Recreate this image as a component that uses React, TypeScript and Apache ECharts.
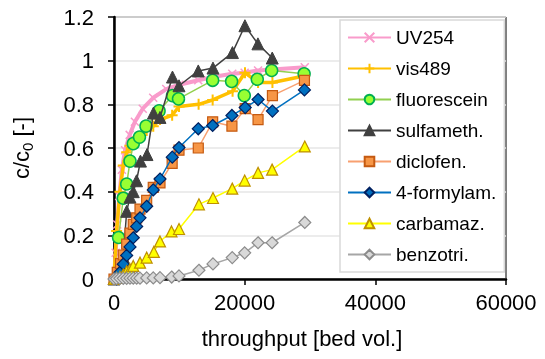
import React, { useEffect, useRef } from "react";
import * as echarts from "echarts";

const FONT = "Liberation Sans, Arial, sans-serif";

const seriesNames = ["UV254", "vis489", "fluorescein", "sulfameth.", "diclofen.", "4-formylam.", "carbamaz.", "benzotri."];

const xTicks = [0, 20000, 40000, 60000];
const yTicks = [0, 0.2, 0.4, 0.6, 0.8, 1, 1.2];

const xUV = [0, 250, 500, 800, 1200, 1700, 2400, 3200, 4400, 6000, 8000, 10000, 12900, 15100, 18100, 20000, 22050, 24200, 29200];
const yUV = [0, 0.12, 0.25, 0.38, 0.5, 0.59, 0.66, 0.72, 0.78, 0.83, 0.87, 0.89, 0.91, 0.925, 0.94, 0.945, 0.955, 0.96, 0.97];

const xVis = [0, 400, 900, 1420, 1940, 2450, 2950, 3470, 3980, 5000, 6010, 7040, 8900, 9950, 12950, 15100, 18150, 20050, 22050, 24250, 29100];
const yVis = [0, 0.22, 0.4, 0.52, 0.58, 0.61, 0.63, 0.64, 0.65, 0.68, 0.7, 0.73, 0.75, 0.79, 0.8, 0.82, 0.86, 0.945, 0.9, 0.9, 0.93];

const xFl = [700, 1420, 1940, 2450, 2950, 3900, 4900, 6900, 8950, 9870, 15100, 18000, 19940, 21930, 24130, 29100];
const yFl = [0.19, 0.37, 0.435, 0.54, 0.62, 0.65, 0.7, 0.77, 0.84, 0.825, 0.91, 0.905, 0.84, 0.915, 0.955, 0.94];

const xSu = [0, 900, 1420, 1940, 2450, 2950, 3450, 4050, 5050, 6040, 7040, 8950, 9950, 12900, 15150, 18130, 20040, 22030, 24220];
const ySu = [0, 0.03, 0.1, 0.31, 0.375, 0.4, 0.45, 0.54, 0.57, 0.76, 0.74, 0.925, 0.885, 0.953, 0.966, 1.037, 1.16, 1.077, 1.012];

const xDi = [0, 500, 1000, 1420, 1940, 2450, 2950, 3470, 3980, 5000, 6010, 7040, 8900, 9950, 12900, 15100, 18050, 20080, 22050, 24250, 29150];
const yDi = [0, 0.03, 0.07, 0.11, 0.16, 0.21, 0.25, 0.28, 0.32, 0.36, 0.42, 0.44, 0.53, 0.59, 0.6, 0.72, 0.7, 0.78, 0.73, 0.84, 0.91];

const xFo = [400, 900, 1420, 1940, 2450, 2950, 3470, 3980, 5000, 6010, 7040, 8920, 9950, 12900, 15100, 18050, 20080, 22050, 24250, 29150];
const yFo = [0, 0.03, 0.068, 0.108, 0.147, 0.189, 0.241, 0.28, 0.333, 0.408, 0.458, 0.558, 0.602, 0.688, 0.703, 0.749, 0.785, 0.822, 0.769, 0.866];

const xCa = [0, 400, 900, 1420, 1940, 2450, 2950, 3980, 5000, 6100, 7040, 8800, 9950, 13000, 15150, 18100, 20000, 22050, 24200, 29200];
const yCa = [0, 0.005, 0.01, 0.02, 0.035, 0.045, 0.06, 0.075, 0.098, 0.124, 0.172, 0.218, 0.229, 0.342, 0.371, 0.414, 0.451, 0.486, 0.501, 0.607];

const xBe = [0, 400, 900, 1420, 1940, 2450, 2950, 3470, 3980, 5000, 6010, 7040, 8830, 9950, 13000, 15150, 18100, 20000, 22050, 24200, 29200];
const yBe = [0, 0.002, 0.003, 0.003, 0.003, 0.004, 0.004, 0.004, 0.004, 0.005, 0.005, 0.006, 0.009, 0.014, 0.04, 0.069, 0.098, 0.12, 0.166, 0.166, 0.259];

const zip = (xs: number[], ys: number[]) => xs.map((x, i) => [x, ys[i]]);

const CROSS = "path://M0,0L10,10M10,0L0,10";
const PLUS = "path://M5,0L5,10M0,5L10,5";

export default function App() {
  const ref = useRef<HTMLDivElement>(null);
  useEffect(() => {
    if (!ref.current) return;
    const chart = echarts.init(ref.current, null, { renderer: "svg" });
    const mk = (
      i: number,
      data: number[][],
      lineColor: string,
      lineWidth: number,
      symbol: string,
      symbolSize: number,
      fill: string,
      border: string,
      borderWidth: number
    ) => ({
      name: seriesNames[i],
      type: "line",
      data,
      symbol,
      symbolSize,
      showAllSymbol: true,
      lineStyle: { color: lineColor, width: lineWidth },
      itemStyle: { color: fill, borderColor: border, borderWidth },
      emphasis: { disabled: true },
      z: 2 + i,
    });
    chart.setOption({
      animation: false,
      grid: { left: 114, right: 39, top: 17, bottom: 80, show: true, borderColor: "#000", borderWidth: 1, backgroundColor: "transparent" },
      legend: {
        orient: "vertical",
        left: 340,
        top: 20,
        padding: [8, 8, 8, 7],
        itemGap: 12,
        itemWidth: 43,
        itemHeight: 12,
        backgroundColor: "#fff",
        borderColor: "#d9d9d9",
        borderWidth: 1.5,
        textStyle: { fontSize: 19, color: "#000", fontFamily: FONT },
        data: seriesNames,
      },
      xAxis: {
        type: "value",
        min: xTicks[0],
        max: xTicks[xTicks.length - 1],
        interval: xTicks[1] - xTicks[0],
        axisLine: { show: true, onZero: false, lineStyle: { color: "#000", width: 2.5 } },
        axisTick: { show: true, length: 6, lineStyle: { color: "#000", width: 1.5 } },
        axisLabel: { color: "#000", fontSize: 22, fontFamily: FONT, margin: 12, formatter: (v: number) => String(v) },
        splitLine: { show: false },
        name: "throughput [bed vol.]",
        nameLocation: "middle",
        nameGap: 48,
        nameTextStyle: { color: "#000", fontSize: 22, fontFamily: FONT, padding: [0, 16, 0, 0] },
      },
      yAxis: {
        type: "value",
        min: yTicks[0],
        max: yTicks[yTicks.length - 1],
        interval: 0.2,
        axisLine: { show: true, onZero: false, lineStyle: { color: "#000", width: 2.5 } },
        axisTick: { show: true, length: 6, lineStyle: { color: "#000", width: 1.5 } },
        axisLabel: {
          color: "#000",
          fontSize: 22,
          fontFamily: FONT,
          margin: 20,
          formatter: (v: number) => String(Math.round(v * 10) / 10),
        },
        splitLine: { show: true, lineStyle: { color: "#e6e6e6", width: 1.5 } },
        name: "{n|c/c}{s|0}{n| [-]}",
        nameLocation: "middle",
        nameGap: 79,
        nameTextStyle: {
          color: "#000",
          fontFamily: FONT,
          fontSize: 22,
          rich: {
            n: { fontSize: 22, fontFamily: FONT, color: "#000", lineHeight: 28, verticalAlign: "middle" },
            s: { fontSize: 15, fontFamily: FONT, color: "#000", lineHeight: 28, verticalAlign: "bottom" },
          },
        },
      },
      series: [
        mk(0, zip(xUV, yUV), "#F99BCB", 4, CROSS, 8, "#F99BCB", "#F99BCB", 1.5),
        mk(1, zip(xVis, yVis), "#FFC000", 3.5, PLUS, 11, "#FFC000", "#FFC000", 2),
        mk(2, zip(xFl, yFl), "#92D050", 1.5, "circle", 12, "#99FF33", "#00B050", 1.5),
        mk(3, zip(xSu, ySu), "#404040", 1.5, "triangle", 12, "#404040", "#404040", 1),
        mk(4, zip(xDi, yDi), "#F8A070", 1.5, "rect", 10, "#F79646", "#C55A11", 1.2),
        mk(5, zip(xFo, yFo), "#0070C0", 1.5, "diamond", 12, "#0070C0", "#002060", 1.2),
        mk(6, zip(xCa, yCa), "#FFFF00", 1.5, "triangle", 11, "#FFFF00", "#BF9000", 1.2),
        mk(7, zip(xBe, yBe), "#A6A6A6", 1.5, "diamond", 12, "#D9D9D9", "#8C8C8C", 1.2),
      ],
    });
    return () => chart.dispose();
  }, []);
  return <div ref={ref} style={{ position: "fixed", left: 0, top: 0, width: 545, height: 359 }} />;
}
